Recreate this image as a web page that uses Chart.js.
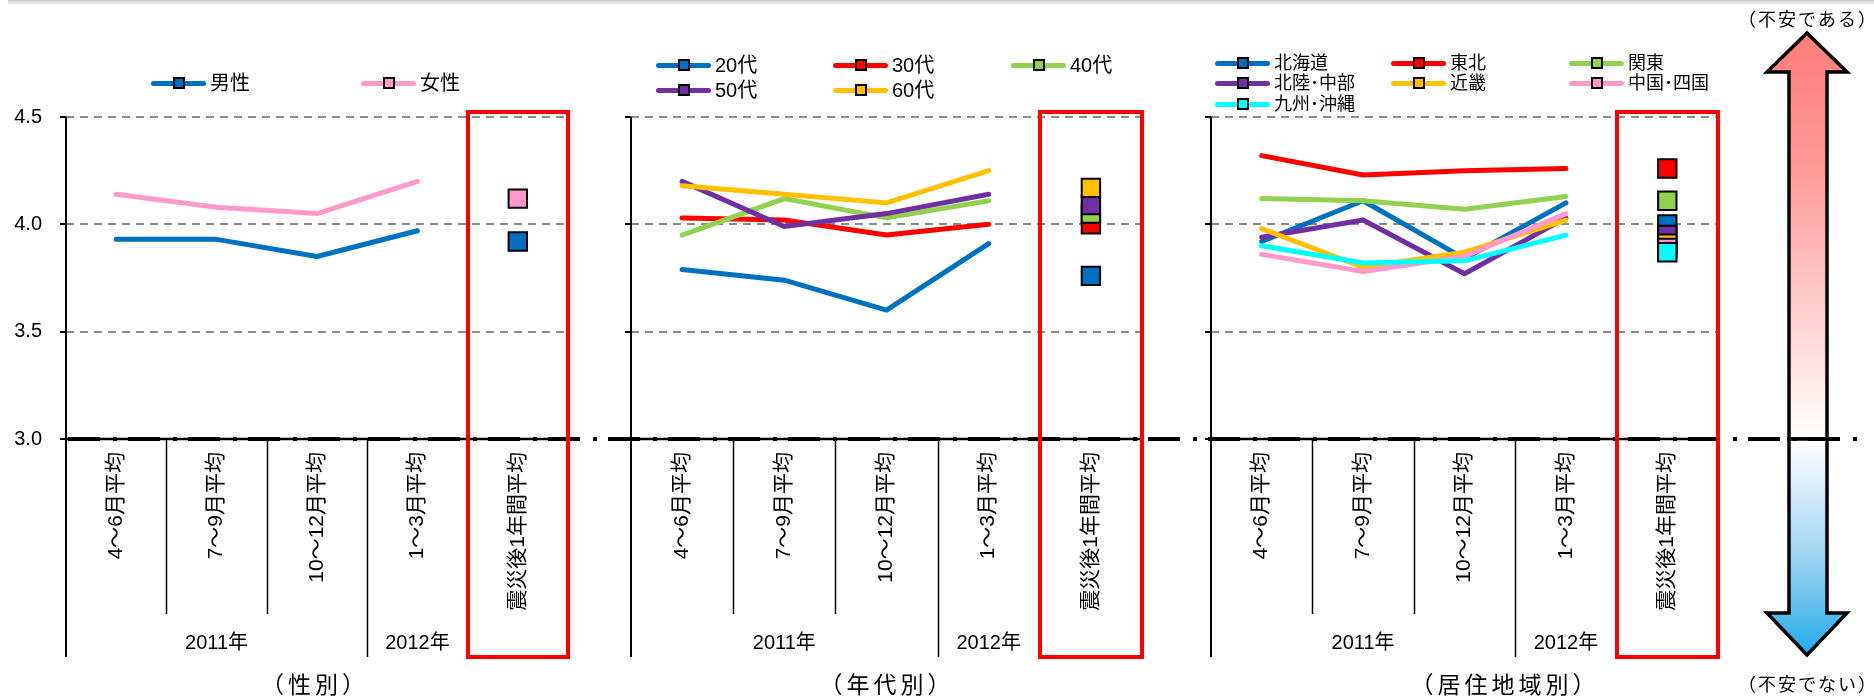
<!DOCTYPE html>
<html lang="ja">
<head>
<meta charset="utf-8">
<title>震災後の不安度の推移</title>
<script src="https://cdn.jsdelivr.net/npm/chart.js@4.4.1/dist/chart.umd.min.js"></script>
<style>
  html, body { margin: 0; padding: 0; background: #fff; }
  #stage {
    position: relative; width: 1874px; height: 698px; overflow: hidden;
    font-family: "Liberation Sans", "Noto Sans CJK JP", sans-serif; color: #000;
  }
  #stage canvas { position: absolute; top: 0; }
  .topshade { position: absolute; left: 8px; right: 0; top: 0; height: 5px;
    background: linear-gradient(#c6c6c6, #ffffff); }
  .leg { position: absolute; display: flex; align-items: center; white-space: nowrap;
    transform: translateY(-50%); line-height: 1; }
  .leg .sw { position: relative; width: 55px; height: 5px; border-radius: 3px; margin-right: 4px; flex: none; }
  .leg .sw i { position: absolute; left: 50%; top: 50%; width: 8px; height: 8px;
    margin: -6px 0 0 -6px; border: 2px solid #000; }
  .cap { position: absolute; transform: translate(-50%, -50%); white-space: nowrap; line-height: 1;
    font-family: "Noto Sans CJK JP", sans-serif; }
</style>
</head>
<body>
<div id="stage">
  <div class="topshade"></div>
</div>
<script>
// ---- categories and tick labels ----
const periods = ['4～6月平均', '7～9月平均', '10～12月平均', '1～3月平均', '震災後1年間平均'];
const yearLabels = ['2011年', '2012年'];
const yearSpans = [3, 1];          // number of quarters under each year label
const yTicks = [3.0, 3.5, 4.0, 4.5];
const panelTitles = ['（性別）', '（年代別）', '（居住地域別）'];
const scaleNotes = ['（不安である）', '（不安でない）'];

// ---- by sex: four quarterly means, then the one-year mean ----
const sexNames = ['男性', '女性'];
const male   = [3.93, 3.93, 3.85, 3.97, 3.92];
const female = [4.14, 4.08, 4.05, 4.20, 4.12];

// ---- by age ----
const ageNames = ['20代', '30代', '40代', '50代', '60代'];
const age20 = [3.79, 3.74, 3.60, 3.91, 3.76];
const age30 = [4.03, 4.02, 3.95, 4.00, 4.00];
const age40 = [3.95, 4.12, 4.03, 4.11, 4.05];
const age50 = [4.20, 3.99, 4.05, 4.14, 4.09];
const age60 = [4.18, 4.14, 4.10, 4.25, 4.17];

// ---- by region of residence ----
const regionNames = ['北海道', '東北', '関東', '北陸･中部', '近畿', '中国･四国', '九州･沖縄'];
const hokkaido       = [3.92, 4.11, 3.84, 4.10, 4.00];
const tohoku         = [4.32, 4.23, 4.25, 4.26, 4.26];
const kanto          = [4.12, 4.11, 4.07, 4.13, 4.11];
const hokurikuChubu  = [3.94, 4.02, 3.77, 4.03, 3.95];
const kinki          = [3.98, 3.80, 3.87, 4.02, 3.91];
const chugokuShikoku = [3.86, 3.78, 3.85, 4.05, 3.89];
const kyushuOkinawa  = [3.90, 3.82, 3.83, 3.95, 3.87];

// ---- colours ----
const BLUE = '#0070C0', PINK = '#FF99CC', RED = '#FF0000', GREEN = '#92D050',
      PURPLE = '#7030A0', GOLD = '#FFC000', CYAN = '#00FFFF';

const FONT = '"Liberation Sans", "Noto Sans CJK JP", sans-serif';
const H = 698;
const AXIS_BOTTOM = 439;     // pixel row of the 3.0 baseline
const FRAME_BOTTOM = 657;    // bottom of the category frame

const panels = [
  { canvasLeft: 0, width: 600, plotLeft: 66, plotRight: 568, showY: true, dashFrom: 60, dashTo: 600,
    names: sexNames, series: [male, female], colors: [BLUE, PINK],
    legend: [[151, 83], [361, 83]], legendFont: 20, title: [313, 683] },
  { canvasLeft: 600, width: 580, plotLeft: 631, plotRight: 1142, showY: false, dashFrom: 600, dashTo: 1180,
    names: ageNames, series: [age20, age30, age40, age50, age60], colors: [BLUE, RED, GREEN, PURPLE, GOLD],
    legend: [[656, 65], [833, 65], [1011, 65], [656, 90], [833, 90]], legendFont: 20, title: [885, 683] },
  { canvasLeft: 1180, width: 694, plotLeft: 1211, plotRight: 1718, showY: false, dashFrom: 1180, dashTo: 1858,
    names: regionNames,
    series: [hokkaido, tohoku, kanto, hokurikuChubu, kinki, chugokuShikoku, kyushuOkinawa],
    colors: [BLUE, RED, GREEN, PURPLE, GOLD, PINK, CYAN],
    legend: [[1215, 63], [1391, 63], [1569, 63], [1215, 83], [1391, 83], [1569, 83], [1215, 104]],
    legendFont: 18, title: [1503, 683], arrow: true }
];

const stage = document.getElementById('stage');

function addText(cls, text, x, y, size, spacing) {
  const d = document.createElement('div');
  d.className = cls;
  d.textContent = text;
  d.style.left = x + 'px';
  d.style.top = y + 'px';
  d.style.fontSize = size + 'px';
  if (spacing) {
    d.style.letterSpacing = spacing + 'px';
    d.style.paddingLeft = spacing + 'px';
  }
  stage.appendChild(d);
  return d;
}

function addLegend(name, color, x, y, size) {
  const d = document.createElement('div');
  d.className = 'leg';
  d.style.left = x + 'px';
  d.style.top = y + 'px';
  d.style.fontSize = size + 'px';
  const sw = document.createElement('span');
  sw.className = 'sw';
  sw.style.background = color;
  const mk = document.createElement('i');
  mk.style.background = color;
  sw.appendChild(mk);
  const t = document.createElement('span');
  t.textContent = name;
  d.appendChild(sw);
  d.appendChild(t);
  stage.appendChild(d);
}

// Double arrow on the right: red (anxious) upwards, blue (not anxious) downwards.
function drawScaleArrow(ctx, ox, yMid) {
  const cx = 1807 - ox, sL = 1789 - ox, sR = 1827 - ox, hL = 1767 - ox, hR = 1847 - ox;
  ctx.save();
  ctx.lineWidth = 3.5;
  ctx.lineJoin = 'miter';
  ctx.strokeStyle = '#000';

  let g = ctx.createLinearGradient(0, 33, 0, yMid);
  g.addColorStop(0, '#FF7C7A');
  g.addColorStop(0.35, '#FF9C9A');
  g.addColorStop(1, '#FFFFFF');
  ctx.beginPath();
  ctx.moveTo(cx, 33); ctx.lineTo(hR, 72); ctx.lineTo(sR, 72); ctx.lineTo(sR, yMid);
  ctx.lineTo(sL, yMid); ctx.lineTo(sL, 72); ctx.lineTo(hL, 72); ctx.closePath();
  ctx.fillStyle = g; ctx.fill(); ctx.stroke();

  g = ctx.createLinearGradient(0, yMid, 0, 655);
  g.addColorStop(0, '#FFFFFF');
  g.addColorStop(0.55, '#9ED4F2');
  g.addColorStop(1, '#22AAE8');
  ctx.beginPath();
  ctx.moveTo(sL, yMid); ctx.lineTo(sR, yMid); ctx.lineTo(sR, 613); ctx.lineTo(hR, 613);
  ctx.lineTo(cx, 655); ctx.lineTo(hL, 613); ctx.lineTo(sL, 613); ctx.closePath();
  ctx.fillStyle = g; ctx.fill(); ctx.stroke();
  ctx.restore();
}

function framePlugin(p) {
  return {
    id: 'frame',
    beforeDatasetsDraw(chart) {
      const { ctx, chartArea: a, scales: { y } } = chart;
      ctx.save();
      ctx.strokeStyle = '#8C8C8C';
      ctx.lineWidth = 2;
      ctx.setLineDash([8, 6]);
      yTicks.slice(1).forEach(v => {
        const py = Math.round(y.getPixelForValue(v));
        ctx.beginPath(); ctx.moveTo(a.left, py); ctx.lineTo(a.right, py); ctx.stroke();
      });
      ctx.restore();
    },
    afterDraw(chart) {
      const { ctx, chartArea: a, scales: { x, y } } = chart;
      const ox = p.canvasLeft;
      const base = Math.round(y.getPixelForValue(yTicks[0]));
      const top = Math.round(y.getPixelForValue(yTicks[yTicks.length - 1]));
      const band = (a.right - a.left) / periods.length;
      const edge = i => x.getPixelForValue(i) - band / 2;

      if (p.arrow) drawScaleArrow(ctx, ox, base);

      ctx.save();
      ctx.strokeStyle = '#000';
      // value axis with outward tick marks
      ctx.lineWidth = 2;
      ctx.beginPath(); ctx.moveTo(a.left, top); ctx.lineTo(a.left, FRAME_BOTTOM); ctx.stroke();
      yTicks.forEach(v => {
        const py = Math.round(y.getPixelForValue(v));
        ctx.beginPath(); ctx.moveTo(a.left - 6, py); ctx.lineTo(a.left, py); ctx.stroke();
      });
      // category axis
      ctx.lineWidth = 2.5;
      ctx.beginPath(); ctx.moveTo(a.left, base); ctx.lineTo(a.right, base); ctx.stroke();
      // category separators: short ones inside a year, long ones between years
      const longEdges = new Set([0, periods.length, periods.length - 1]);
      let acc = 0;
      yearSpans.forEach(s => { acc += s; longEdges.add(acc); });
      ctx.lineWidth = 1.5;
      for (let i = 1; i <= periods.length; i++) {
        const ex = Math.round(edge(i)) + 0.5;
        ctx.beginPath(); ctx.moveTo(ex, base);
        ctx.lineTo(ex, longEdges.has(i) ? FRAME_BOTTOM : 614); ctx.stroke();
      }
      // year labels under the quarter labels
      ctx.fillStyle = '#000';
      ctx.font = '20px ' + FONT;
      ctx.textAlign = 'center';
      ctx.textBaseline = 'middle';
      let start = 0;
      yearLabels.forEach((lab, k) => {
        const end = start + yearSpans[k];
        ctx.fillText(lab, (edge(start) + edge(end)) / 2, 643);
        start = end;
      });
      // dash-dot baseline at 3.0 running across the whole figure
      ctx.lineWidth = 4;
      ctx.setLineDash([32, 13, 4, 11]);
      ctx.lineDashOffset = ((p.dashFrom - 8) % 60 + 60) % 60;
      ctx.beginPath(); ctx.moveTo(p.dashFrom - ox, base); ctx.lineTo(p.dashTo - ox, base); ctx.stroke();
      ctx.setLineDash([]);
      // frame around the one-year mean column
      ctx.strokeStyle = '#FF0000';
      ctx.lineWidth = 4;
      const bl = Math.round(edge(periods.length - 1));
      ctx.strokeRect(bl, top - 5, Math.round(a.right) - bl, FRAME_BOTTOM - (top - 5));
      ctx.restore();
    }
  };
}

panels.forEach((p, pi) => {
  const cv = document.createElement('canvas');
  cv.width = p.width; cv.height = H;
  cv.style.left = p.canvasLeft + 'px';
  cv.style.width = p.width + 'px'; cv.style.height = H + 'px';
  stage.appendChild(cv);

  const n = p.series.length;
  const datasets = p.series.map((vals, i) => ({
    label: p.names[i],
    data: vals,
    borderColor: p.colors[i],
    backgroundColor: p.colors[i],
    borderWidth: 5,
    borderCapStyle: 'round',
    borderJoinStyle: 'round',
    tension: 0,
    pointStyle: 'rect',
    pointRadius: vals.map((v, k) => (k === periods.length - 1 ? 13 : 0)),
    pointBackgroundColor: p.colors[i],
    pointBorderColor: '#000',
    pointBorderWidth: 2,
    segment: { borderColor: c => (c.p1DataIndex === periods.length - 1 ? 'rgba(0,0,0,0)' : undefined) },
    order: n - i,
    clip: false
  }));

  new Chart(cv, {
    type: 'line',
    data: { labels: periods, datasets },
    options: {
      responsive: false,
      animation: false,
      devicePixelRatio: 1,
      events: [],
      layout: { padding: { top: 117, left: 0, right: p.width - (p.plotRight - p.canvasLeft), bottom: 0 } },
      plugins: { legend: { display: false }, tooltip: { enabled: false } },
      scales: {
        x: {
          type: 'category',
          offset: true,
          grid: { display: false, drawTicks: false },
          border: { display: false },
          ticks: {
            autoSkip: false, minRotation: 90, maxRotation: 90, padding: 13,
            color: '#000', font: { family: FONT, size: 21 }
          },
          afterFit: s => { s.height = H - AXIS_BOTTOM; }
        },
        y: {
          min: yTicks[0], max: yTicks[yTicks.length - 1],
          grid: { display: false, drawTicks: false },
          border: { display: false },
          ticks: {
            display: p.showY, stepSize: 0.5, padding: 24,
            color: '#000', font: { family: FONT, size: 20 },
            callback: v => Number(v).toFixed(1)
          },
          afterFit: s => { s.width = p.plotLeft - p.canvasLeft; }
        }
      }
    },
    plugins: [framePlugin(p)]
  });

  p.names.forEach((nm, i) => addLegend(nm, p.colors[i], p.legend[i][0], p.legend[i][1], p.legendFont));
  addText('cap', panelTitles[pi], p.title[0], p.title[1], 23, 4);
});

addText('cap', scaleNotes[0], 1807, 18, 18, 2);
addText('cap', scaleNotes[1], 1807, 683, 18, 2);
</script>
</body>
</html>
